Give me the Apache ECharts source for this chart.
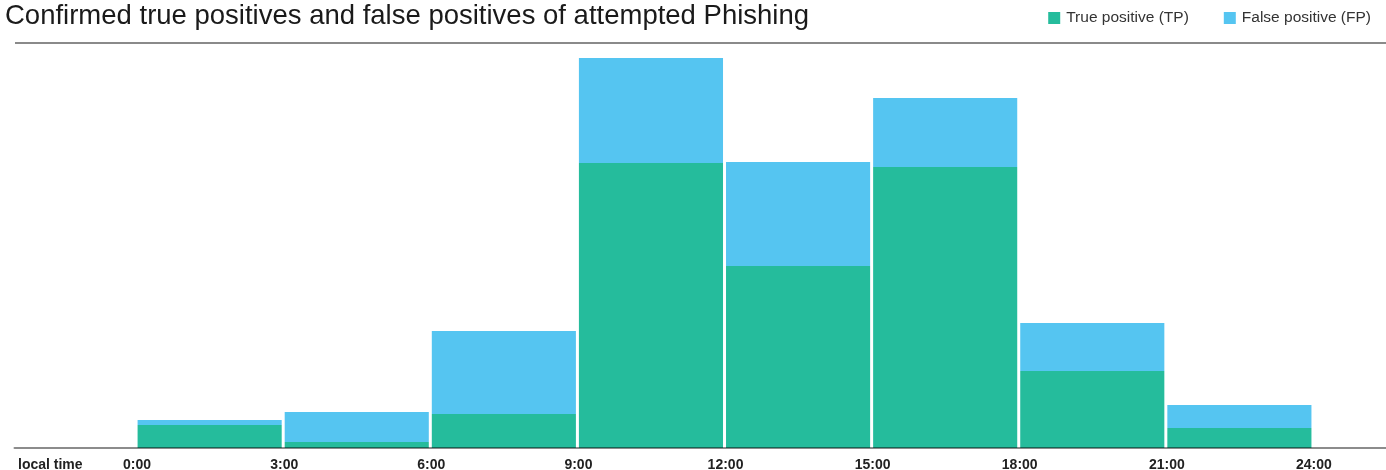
<!DOCTYPE html>
<html>
<head>
<meta charset="utf-8">
<script src="https://cdn.jsdelivr.net/npm/echarts@6/dist/echarts.min.js"></script>
<style>
html,body{margin:0;padding:0;background:#fff;}
#chart{width:1386px;height:470px;}
</style>
</head>
<body>
<div id="chart"></div>
<script>
const hourStart = [0, 3, 6, 9, 12, 15, 18, 21];
const binWidth = 3;
const truePositive = [23, 6, 34, 285, 182, 281, 77, 20];
const falsePositive = [5, 30, 83, 105, 104, 69, 48, 23];
const tickHours = [0, 3, 6, 9, 12, 15, 18, 21, 24];
const tickLabels = ['0:00', '3:00', '6:00', '9:00', '12:00', '15:00', '18:00', '21:00', '24:00'];
const seriesNames = ['True positive (TP)', 'False positive (FP)'];
const colors = ['#25BC9C', '#55C5F1'];

const tpData = hourStart.map((h, i) => [h, truePositive[i], 0]);
const fpData = hourStart.map((h, i) => [h, falsePositive[i], truePositive[i]]);

function renderItem(params, api) {
  const start = api.value(0);
  const val = api.value(1);
  const base = api.value(2);
  const p0 = api.coord([start, base]);
  const p1 = api.coord([start + binWidth, base + val]);
  return {
    type: 'rect',
    shape: { x: p0[0] + 0.5, y: p1[1], width: p1[0] - p0[0] - 3, height: p0[1] - p1[1] },
    style: { fill: api.visual('color') }
  };
}

const font = '"Liberation Sans", Arial, Helvetica, sans-serif';
const chart = echarts.init(document.getElementById('chart'));
chart.setOption({
  animation: false,
  textStyle: { fontFamily: font },
  title: {
    text: 'Confirmed true positives and false positives of attempted Phishing',
    left: 5, top: 2, padding: 0,
    textStyle: { fontSize: 27.5, fontWeight: 'normal', color: '#1a1a1a', fontFamily: font }
  },
  legend: {
    right: 10, top: 5,
    icon: 'rect', itemWidth: 12, itemHeight: 12, itemGap: 35,
    textStyle: { fontSize: 15.5, color: '#333', fontFamily: font, padding: [0, 0, 0, 1] },
    data: seriesNames
  },
  grid: { left: 14.5, width: 1373, top: 48, height: 400, outerBoundsMode: 'none', containLabel: false },
  xAxis: {
    type: 'value', min: -2.5, max: 25.5, interval: 0.5, z: 5,
    axisLine: { show: true, lineStyle: { color: 'rgba(0,0,0,0.45)', width: 2 } },
    axisTick: { show: false },
    splitLine: { show: false },
    axisLabel: {
      margin: 10, fontSize: 14, fontWeight: 'bold', color: '#222', fontFamily: font,
      showMinLabel: true, showMaxLabel: true, hideOverlap: false,
      formatter: v => { const i = tickHours.indexOf(v); return i >= 0 ? tickLabels[i] : ''; }
    }
  },
  yAxis: { type: 'value', min: 0, max: 400, show: false, splitLine: { show: false } },
  graphic: [
    { type: 'line', shape: { x1: 15, y1: 43, x2: 1386, y2: 43 }, style: { stroke: '#8a8a8a', lineWidth: 2 } },
    { type: 'text', left: 18, top: 458, style: { text: 'local time', fill: '#222', font: 'bold 14px ' + font } }
  ],
  series: [
    { name: seriesNames[0], type: 'custom', renderItem, itemStyle: { color: colors[0] }, data: tpData, z: 2 },
    { name: seriesNames[1], type: 'custom', renderItem, itemStyle: { color: colors[1] }, data: fpData, z: 2 }
  ]
});
</script>
</body>
</html>
